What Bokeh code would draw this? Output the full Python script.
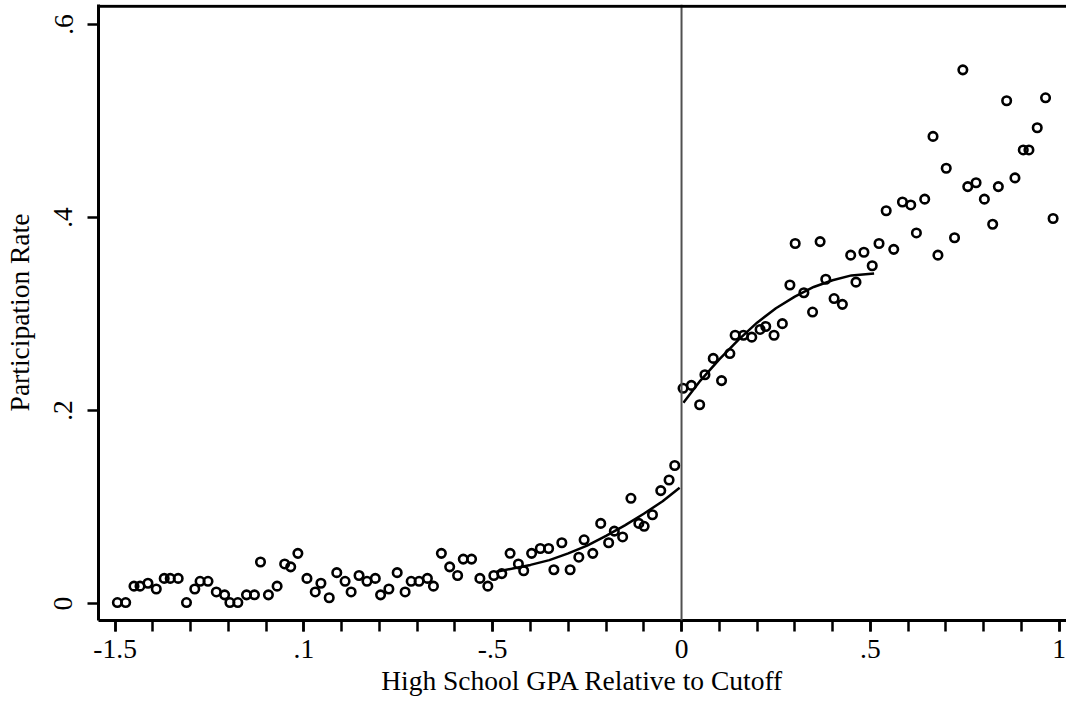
import numpy as np
from bokeh.plotting import figure
from bokeh.models import FixedTicker, Span
from bokeh.embed import file_html
from bokeh.resources import INLINE

# binned participation rates, left of the cutoff
left_x = [-1.494, -1.472, -1.450, -1.434, -1.413, -1.391, -1.370, -1.354, -1.333, -1.311,
          -1.289, -1.275, -1.254, -1.232, -1.210, -1.196, -1.175, -1.152, -1.131, -1.115,
          -1.094, -1.071, -1.051, -1.035, -1.016, -0.992, -0.970, -0.955, -0.933, -0.913,
          -0.891, -0.875, -0.854, -0.833, -0.811, -0.797, -0.775, -0.753, -0.732, -0.716,
          -0.695, -0.673, -0.657, -0.636, -0.614, -0.593, -0.578, -0.556, -0.534, -0.513,
          -0.497, -0.476, -0.454, -0.432, -0.418, -0.397, -0.374, -0.352, -0.338, -0.317,
          -0.295, -0.272, -0.258, -0.235, -0.214, -0.193, -0.178, -0.156, -0.134, -0.113,
          -0.099, -0.077, -0.055, -0.033, -0.018]
left_y = [0.001, 0.001, 0.018, 0.018, 0.021, 0.015, 0.026, 0.026, 0.026, 0.001,
          0.015, 0.023, 0.023, 0.012, 0.009, 0.001, 0.001, 0.009, 0.009, 0.043,
          0.009, 0.018, 0.041, 0.038, 0.052, 0.026, 0.012, 0.021, 0.006, 0.032,
          0.023, 0.012, 0.029, 0.023, 0.026, 0.009, 0.015, 0.032, 0.012, 0.023,
          0.023, 0.026, 0.018, 0.052, 0.038, 0.029, 0.046, 0.046, 0.026, 0.018,
          0.029, 0.031, 0.052, 0.041, 0.034, 0.052, 0.057, 0.057, 0.035, 0.063,
          0.035, 0.048, 0.066, 0.052, 0.083, 0.063, 0.075, 0.069, 0.109, 0.083,
          0.080, 0.092, 0.117, 0.128, 0.143]

# binned participation rates, right of the cutoff
right_x = [0.004, 0.026, 0.048, 0.062, 0.084, 0.106, 0.128, 0.142, 0.164, 0.186,
           0.208, 0.223, 0.245, 0.267, 0.287, 0.301, 0.324, 0.347, 0.367, 0.382,
           0.404, 0.426, 0.448, 0.462, 0.483, 0.505, 0.523, 0.542, 0.562, 0.585,
           0.607, 0.622, 0.644, 0.666, 0.679, 0.701, 0.723, 0.745, 0.758, 0.780,
           0.802, 0.824, 0.839, 0.861, 0.883, 0.905, 0.920, 0.942, 0.964, 0.984]
right_y = [0.223, 0.226, 0.206, 0.237, 0.254, 0.231, 0.259, 0.278, 0.278, 0.276,
           0.284, 0.287, 0.278, 0.290, 0.330, 0.373, 0.322, 0.302, 0.375, 0.336,
           0.316, 0.310, 0.361, 0.333, 0.364, 0.350, 0.373, 0.407, 0.367, 0.416,
           0.413, 0.384, 0.419, 0.484, 0.361, 0.451, 0.379, 0.553, 0.432, 0.436,
           0.419, 0.393, 0.432, 0.521, 0.441, 0.470, 0.470, 0.493, 0.524, 0.399]

# fitted lines on each side
fit_left_x = [-0.49, -0.45, -0.40, -0.35, -0.30, -0.25, -0.20, -0.15, -0.10, -0.05, -0.005]
fit_left_y = [0.033, 0.036, 0.040, 0.045, 0.052, 0.060, 0.070, 0.081, 0.093, 0.106, 0.120]
fit_right_x = [0.005, 0.05, 0.10, 0.15, 0.20, 0.25, 0.30, 0.35, 0.40, 0.45, 0.51]
fit_right_y = [0.208, 0.231, 0.253, 0.273, 0.291, 0.306, 0.318, 0.328, 0.335, 0.340, 0.342]

x_ticks = [-1.5, -1, -0.5, 0, 0.5, 1]
x_labels = ["-1.5", ".1", "-.5", "0", ".5", "1"]
y_ticks = [0, 0.2, 0.4, 0.6]
y_labels = ["0", ".2", ".4", ".6"]

FONT = "Liberation Serif"

p = figure(width=1066, height=710, x_range=(-1.544, 1.0195), y_range=(-0.0176, 0.6207),
           output_backend="svg", toolbar_location=None,
           min_border_left=97, min_border_right=0, min_border_top=4, min_border_bottom=90)

p.scatter(x=left_x, y=left_y, marker="circle", size=8.5, fill_color=None,
          line_color="black", line_width=2.6)
p.scatter(x=right_x, y=right_y, marker="circle", size=8.5, fill_color=None,
          line_color="black", line_width=2.6)
p.line(fit_left_x, fit_left_y, line_color="black", line_width=2.5)
p.line(fit_right_x, fit_right_y, line_color="black", line_width=2.5)

# cutoff line and top edge of the frame
p.add_layout(Span(location=0, dimension="height", line_color="#505050", line_width=2))
p.add_layout(Span(location=0.619, dimension="width", line_color="black", line_width=3))

p.xaxis.ticker = FixedTicker(ticks=x_ticks,
                             minor_ticks=[round(v, 1) for v in np.arange(-1.5, 1.01, 0.1)])
p.yaxis.ticker = FixedTicker(ticks=y_ticks)
p.xaxis.major_label_overrides = dict(zip(x_ticks, x_labels))
p.yaxis.major_label_overrides = dict(zip(y_ticks, y_labels))
p.yaxis.major_label_orientation = "vertical"

p.xaxis.axis_label = "High School GPA Relative to Cutoff"
p.yaxis.axis_label = "Participation Rate"

for ax in (p.xaxis, p.yaxis):
    ax.axis_line_width = 3
    ax.axis_line_color = "black"
    ax.major_tick_line_width = 2.5
    ax.major_tick_out = 11
    ax.major_tick_in = 0
    ax.minor_tick_line_width = 2.5
    ax.minor_tick_out = 11
    ax.minor_tick_in = 0
    ax.major_label_text_font = FONT
    ax.major_label_text_font_size = "27.5px"
    ax.major_label_text_color = "black"
    ax.axis_label_text_font = FONT
    ax.axis_label_text_font_size = "27.5px"
    ax.axis_label_text_font_style = "normal"
    ax.axis_label_text_color = "black"

p.yaxis.minor_tick_line_color = None
p.xaxis.major_label_standoff = 8
p.yaxis.major_label_standoff = 15
p.xaxis.axis_label_standoff = 4
p.yaxis.axis_label_standoff = 17

p.xgrid.grid_line_color = None
p.ygrid.grid_line_color = None
p.outline_line_color = None
p.background_fill_color = "white"
p.border_fill_color = "white"

open("out.html", "w").write(file_html(p, INLINE))
